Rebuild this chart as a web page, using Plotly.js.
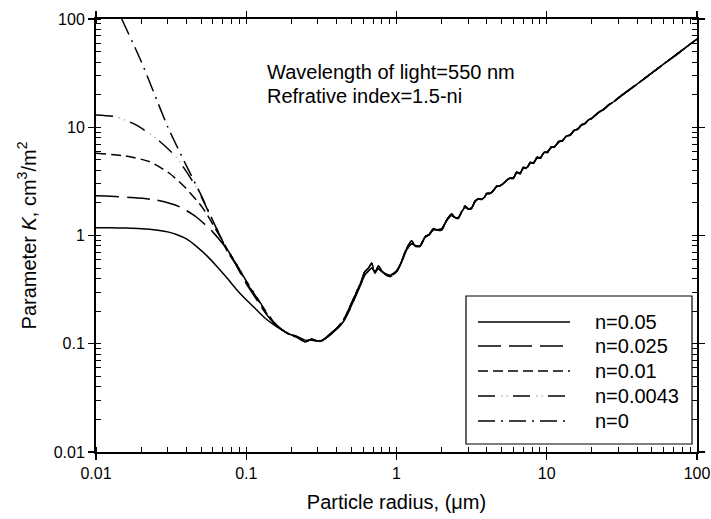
<!DOCTYPE html>
<html>
<head>
<meta charset="utf-8">
<script src="https://cdn.plot.ly/plotly-3.0.1.min.js"></script>
<style>html,body{margin:0;padding:0;background:#fff;}#chart{width:711px;height:519px;}</style>
</head>
<body>
<div id="chart"></div>
<script>
// ---- data ----
var seriesNames = ["n=0.05", "n=0.025", "n=0.01", "n=0.0043", "n=0"];

// small-particle part of each curve
var headX_005  = [0.01,0.0125,0.0158,0.02,0.025,0.03,0.035,0.04,0.0468,0.055,0.0636,0.075,0.0863,0.1,0.1174,0.135,0.16];
var headK_005  = [1.18,1.178,1.17,1.155,1.125,1.08,1.01,0.93,0.79,0.645,0.52,0.40,0.316,0.255,0.205,0.17,0.143];

var headX_0025 = [0.01,0.0125,0.0167,0.0251,0.0358,0.0463,0.0598,0.0771,0.0863,0.1,0.1174,0.135,0.16];
var headK_0025 = [2.33,2.31,2.25,2.13,1.85,1.49,1.08,0.70,0.52,0.36,0.255,0.19,0.145];

var headX_001  = [0.01,0.0158,0.0227,0.0308,0.0397,0.0513,0.0662,0.075,0.0863,0.1,0.1174,0.135,0.16];
var headK_001  = [5.75,5.42,4.81,3.76,2.73,1.8,1.0,0.71,0.53,0.37,0.262,0.195,0.146];

var headX_0043 = [0.01,0.0136,0.01845,0.0251,0.034,0.0463,0.0598,0.075,0.0863,0.1,0.1174,0.135,0.16];
var headK_0043 = [13.0,12.5,10.5,7.9,5.35,2.82,1.38,0.72,0.54,0.375,0.266,0.198,0.147];

var headX_0    = [0.01483,0.02,0.0301,0.04,0.05,0.0636,0.075,0.0863,0.1,0.1174,0.135,0.16];
var headK_0    = [100,40.5,10,4.4,2.37,1.15,0.74,0.54,0.38,0.27,0.2,0.148];

// large-particle part (curves nearly coincide)
var tailX = [0.1955,0.2168,0.246,0.273,0.31,0.343,0.40,0.443,0.49,0.543,0.586,0.616,0.65,0.684,0.719,0.757,0.817,0.906,1.0,1.055,1.12,1.17,1.26,1.33,1.43,1.55,1.65,1.76,1.88,2.0,2.15,2.33,2.45,2.58,2.72,2.86,3.0,3.16,3.33,3.5,3.68,3.85,3.98,4.2,4.4,4.64,4.9,5.2,5.45,5.69,6.0,6.3,6.65,7.0,7.35,7.75,8.2,8.6,9.1,9.6,10.1,10.7,11.3,12,12.7,13.5,14.3,15.2,16.1,17,18,19,20,22,24,26,28,30,40,50,60,70,80,90,100];
var tailK_weak = [0.1205,0.1148,0.1044,0.110,0.1044,0.116,0.139,0.1656,0.22,0.303,0.388,0.463,0.50,0.553,0.448,0.522,0.453,0.417,0.463,0.533,0.66,0.762,0.895,0.80,0.789,0.98,1.02,1.16,1.12,1.12,1.38,1.58,1.46,1.44,1.68,1.87,1.76,1.78,2.08,2.2,2.15,2.25,2.45,2.45,2.58,2.85,2.88,3.05,3.28,3.38,3.36,3.86,3.72,4.29,4.15,4.74,4.65,5.27,5.2,5.9,5.83,6.57,6.55,7.41,7.44,8.33,8.42,9.38,9.57,10.54,10.8,11.77,12.1,13.65,14.64,16.23,17.25,18.7,25.1,31.7,38.4,45.0,51.7,58.5,65.3];
var tailK_abs  = [0.122,0.117,0.108,0.108,0.106,0.114,0.136,0.16,0.21,0.29,0.37,0.43,0.47,0.50,0.465,0.49,0.455,0.43,0.47,0.53,0.64,0.74,0.84,0.81,0.80,0.96,1.02,1.13,1.13,1.15,1.36,1.53,1.47,1.47,1.66,1.82,1.77,1.81,2.05,2.17,2.16,2.26,2.42,2.45,2.6,2.82,2.89,3.07,3.27,3.38,3.43,3.77,3.8,4.2,4.23,4.65,4.74,5.18,5.29,5.8,5.92,6.47,6.65,7.3,7.54,8.23,8.52,9.29,9.67,10.43,10.89,11.68,12.17,13.58,14.72,16.15,17.3,18.68,25.1,31.7,38.4,45.0,51.7,58.5,65.3];

var xTickVals = [0.01,0.1,1,10,100];
var xTickText = ["0.01","0.1","1","10","100"];
var yTickVals = [0.01,0.1,1,10,100];
var yTickText = ["0.01","0.1","1","10","100"];

// ---- styling ----
var dashes = ["solid","23px,8px","10px,5px","17px,18px","17px,6px,2px,6px"];
var dotDash = "0px,23px,1.5px,4px,1.5px,5px";   // light grey dots of the n=0.0043 pattern
var heads = [[headX_005,headK_005],[headX_0025,headK_0025],[headX_001,headK_001],[headX_0043,headK_0043],[headX_0,headK_0]];
var tails = [tailK_abs,tailK_abs,tailK_weak,tailK_weak,tailK_weak];

var traces = [];
// grey dots under the n=0.0043 dashes
traces.push({
  type:"scatter", mode:"lines", name:"n=0.0043 dots",
  x: headX_0043.concat(tailX), y: headK_0043.concat(tailK_weak),
  line:{color:"#b8b8b8", width:1.5, dash:dotDash, shape:"spline", smoothing:0.6},
  showlegend:false, hoverinfo:"skip"
});
for (var i = 0; i < seriesNames.length; i++) {
  traces.push({
    type: "scatter", mode: "lines", name: seriesNames[i],
    x: heads[i][0].concat(tailX),
    y: heads[i][1].concat(tails[i]),
    line: {color: "#000", width: 1.5, dash: dashes[i], shape:"spline", smoothing:0.6},
    showlegend: false, hoverinfo: "skip"
  });
}
// empty trace to carry the overlay axes (inner half of the major ticks)
traces.push({type:"scatter", x:[], y:[], xaxis:"x2", yaxis:"y2", showlegend:false, hoverinfo:"skip"});

var FONT = "Liberation Sans, Arial, Helvetica, sans-serif";

// legend drawn as shapes + annotations (long sample lines like the reference)
var L = {x0:0.6156, x1:0.9917, y0:0.0185, y1:0.3603, lx0:0.6356, lx1:0.7887, tx:0.827};
var rowY = [0.3003, 0.2448, 0.1871, 0.1293, 0.0716];
var shapes = [{type:"rect", xref:"paper", yref:"paper", x0:L.x0, x1:L.x1, y0:L.y0, y1:L.y1,
  line:{color:"#000", width:1.2}, fillcolor:"#fff", layer:"above"}];
var annotations = [
  {xref:"paper", yref:"paper", x:0.281, y:0.8776, xanchor:"left", yanchor:"middle", showarrow:false,
   text:"Wavelength of light=550 nm", font:{family:FONT, size:20, color:"#000"}},
  {xref:"paper", yref:"paper", x:0.281, y:0.822, xanchor:"left", yanchor:"middle", showarrow:false,
   text:"Refrative index=1.5-ni", font:{family:FONT, size:20, color:"#000"}}
];
shapes.push({type:"line", xref:"paper", yref:"paper", x0:L.lx0, x1:L.lx1, y0:rowY[3], y1:rowY[3],
  line:{color:"#b8b8b8", width:1.5, dash:dotDash}, layer:"above"});
for (var j = 0; j < seriesNames.length; j++) {
  shapes.push({type:"line", xref:"paper", yref:"paper", x0:L.lx0, x1:L.lx1, y0:rowY[j], y1:rowY[j],
    line:{color:"#000", width:1.5, dash:dashes[j]}, layer:"above"});
  annotations.push({xref:"paper", yref:"paper", x:L.tx, y:rowY[j], xanchor:"left", yanchor:"middle",
    showarrow:false, text:seriesNames[j], font:{family:FONT, size:20, color:"#000"}});
}

var layout = {
  width: 711, height: 519,
  margin: {l:96, r:14, t:19, b:67, pad:0},
  paper_bgcolor:"#fff", plot_bgcolor:"#fff",
  font: {family: FONT, color:"#000", size:16},
  showlegend: false,
  xaxis: {
    type:"log", range:[-2,2], showgrid:false, zeroline:false,
    showline:true, linecolor:"#000", linewidth:2, mirror:"allticks",
    ticks:"outside", ticklen:6, tickwidth:1.2, tickcolor:"#000",
    tickvals:xTickVals, ticktext:xTickText, tickfont:{size:16, family:FONT},
    minor:{ticks:"inside", ticklen:5, tickwidth:1, tickcolor:"#000", dtick:"D1", showgrid:false},
    title:{text:"Particle radius, (\u03bcm)", font:{size:20, family:FONT}, standoff:14}
  },
  yaxis: {
    type:"log", range:[-2,2], showgrid:false, zeroline:false,
    showline:true, linecolor:"#000", linewidth:2, mirror:"allticks",
    ticks:"outside", ticklen:6, tickwidth:1.2, tickcolor:"#000",
    tickvals:yTickVals, ticktext:yTickText, tickfont:{size:16, family:FONT},
    minor:{ticks:"inside", ticklen:5, tickwidth:1, tickcolor:"#000", dtick:"D1", showgrid:false},
    title:{text:"Parameter <i>K</i>, cm<sup>3</sup>/m<sup>2</sup>", font:{size:20, family:FONT}, standoff:12}
  },
  xaxis2: {type:"log", range:[-2,2], overlaying:"x", showgrid:false, zeroline:false, showline:false,
    mirror:"allticks", ticks:"inside", ticklen:5, tickwidth:1.2, tickcolor:"#000",
    tickvals:xTickVals, showticklabels:false},
  yaxis2: {type:"log", range:[-2,2], overlaying:"y", showgrid:false, zeroline:false, showline:false,
    mirror:"allticks", ticks:"inside", ticklen:5, tickwidth:1.2, tickcolor:"#000",
    tickvals:yTickVals, showticklabels:false},
  shapes: shapes,
  annotations: annotations
};

Plotly.newPlot("chart", traces, layout, {displayModeBar:false, staticPlot:true});
</script>
</body>
</html>
